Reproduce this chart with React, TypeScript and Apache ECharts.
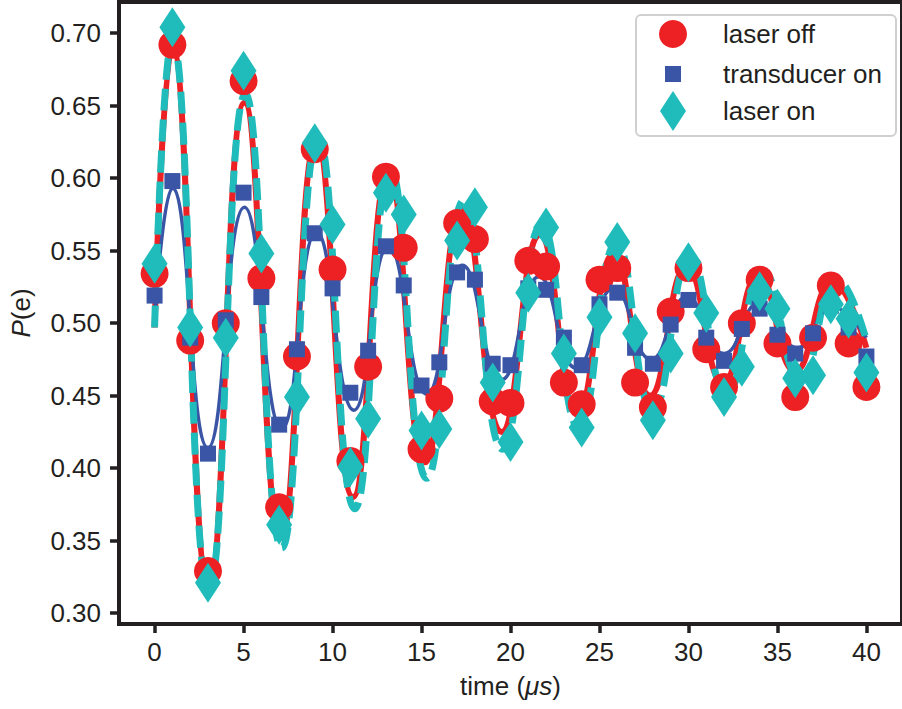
import React, { useEffect, useRef } from "react";
import * as echarts from "echarts";

// measurement times (μs)
const times = [0, 1, 2, 3, 4, 5, 6, 7, 8, 9, 10, 11, 12, 13, 14, 15, 16, 17, 18, 19, 20, 21, 22, 23, 24, 25, 26, 27, 28, 29, 30, 31, 32, 33, 34, 35, 36, 37, 38, 39, 40];

// measured P(e)
const laserOff = [0.534, 0.692, 0.488, 0.329, 0.500, 0.667, 0.531, 0.373, 0.477, 0.620, 0.537, 0.405, 0.470, 0.601, 0.552, 0.413, 0.448, 0.569, 0.558, 0.446, 0.445, 0.543, 0.539, 0.459, 0.444, 0.530, 0.538, 0.459, 0.442, 0.508, 0.538, 0.482, 0.456, 0.500, 0.530, 0.486, 0.449, 0.490, 0.526, 0.486, 0.456];
const transducerOn = [0.519, 0.598, 0.490, 0.410, 0.502, 0.590, 0.518, 0.430, 0.482, 0.562, 0.524, 0.452, 0.481, 0.553, 0.526, 0.457, 0.473, 0.535, 0.530, 0.472, 0.471, 0.524, 0.523, 0.490, 0.471, 0.513, 0.521, 0.483, 0.472, 0.499, 0.516, 0.490, 0.474, 0.496, 0.510, 0.492, 0.479, 0.493, 0.512, 0.497, 0.477];
const laserOn = [0.541, 0.704, 0.497, 0.321, 0.490, 0.674, 0.548, 0.361, 0.449, 0.624, 0.568, 0.401, 0.434, 0.590, 0.575, 0.426, 0.427, 0.557, 0.580, 0.459, 0.418, 0.521, 0.566, 0.479, 0.428, 0.504, 0.556, 0.493, 0.433, 0.479, 0.542, 0.507, 0.449, 0.470, 0.522, 0.510, 0.462, 0.464, 0.513, 0.503, 0.466];

// fitted curves: turning points
const fitOffT = [0, 1.0, 3.05, 5.05, 7.1, 9.1, 11.15, 13.15, 15.2, 17.3, 19.5, 21.65, 23.75, 25.8, 27.85, 29.9, 31.95, 33.95, 36.0, 38.1, 40];
const fitOffV = [0.497, 0.690, 0.318, 0.652, 0.352, 0.626, 0.380, 0.605, 0.404, 0.579, 0.425, 0.561, 0.437, 0.548, 0.450, 0.539, 0.459, 0.533, 0.467, 0.528, 0.483];
const fitTransT = [0, 1.0, 3.0, 5.05, 7.15, 9.1, 11.2, 13.15, 15.3, 17.3, 19.5, 21.6, 23.7, 25.8, 27.9, 29.9, 32.0, 34.0, 36.1, 38.1, 40];
const fitTransV = [0.503, 0.593, 0.414, 0.580, 0.427, 0.563, 0.440, 0.553, 0.451, 0.540, 0.461, 0.532, 0.469, 0.524, 0.475, 0.518, 0.479, 0.514, 0.483, 0.511, 0.490];
const fitOnT = [0, 1.0, 3.05, 5.1, 7.15, 9.2, 11.25, 13.25, 15.3, 17.4, 19.55, 21.75, 23.85, 25.95, 28.0, 30.1, 32.15, 34.2, 36.3, 38.35, 40];
const fitOnV = [0.497, 0.695, 0.316, 0.658, 0.345, 0.628, 0.372, 0.606, 0.393, 0.585, 0.413, 0.568, 0.428, 0.555, 0.440, 0.545, 0.451, 0.536, 0.461, 0.530, 0.488];

const xTicks = [0, 5, 10, 15, 20, 25, 30, 35, 40];
const yTicks = [0.30, 0.35, 0.40, 0.45, 0.50, 0.55, 0.60, 0.65, 0.70];

const RED = "#ed2024";
const BLUE = "#3a55a5";
const CYAN = "#1fbcbb";
const INK = "#231f20";
const FONT = "'Liberation Sans', Arial, Helvetica, sans-serif";
const FS = 26;

function pairs(xs: number[], ys: number[]) {
  return xs.map((x, i) => [x, ys[i]]);
}

export default function App() {
  const ref = useRef<HTMLDivElement>(null);
  useEffect(() => {
    document.body.style.margin = "0";
    const chart = echarts.init(ref.current!, null, { renderer: "svg", width: 902, height: 709 });
    const legendText = (pad: number) => ({ fontSize: FS, color: INK, fontFamily: FONT, padding: [0, 0, 0, pad] });
    const nameStyle = {
      fontSize: FS,
      color: INK,
      fontFamily: FONT,
      rich: { i: { fontSize: FS, color: INK, fontFamily: FONT, fontStyle: "italic" } },
    };
    const option: any = {
      animation: false,
      grid: {
        left: 118,
        top: 2,
        width: 790,
        height: 622,
        show: true,
        borderColor: INK,
        borderWidth: 4,
        backgroundColor: "#ffffff",
      },
      xAxis: {
        type: "value",
        min: -2,
        max: 42,
        name: "time ({i|μs})",
        nameLocation: "middle",
        nameGap: 49,
        nameTextStyle: nameStyle,
        axisLine: { show: false, onZero: false },
        splitLine: { show: false },
        axisTick: { show: true, customValues: xTicks, length: 9, lineStyle: { color: INK, width: 3.5 } },
        axisLabel: { customValues: xTicks, fontSize: FS, color: INK, fontFamily: FONT, margin: 15 },
      },
      yAxis: {
        type: "value",
        min: 0.2925,
        max: 0.7215,
        name: "{i|P}(e)",
        nameLocation: "middle",
        nameGap: 85,
        nameTextStyle: nameStyle,
        axisLine: { show: false, onZero: false },
        splitLine: { show: false },
        axisTick: { show: true, customValues: yTicks, length: 9, lineStyle: { color: INK, width: 3.5 } },
        axisLabel: {
          customValues: yTicks,
          fontSize: FS,
          color: INK,
          fontFamily: FONT,
          margin: 18,
          formatter: (v: number) => v.toFixed(2),
        },
      },
      legend: [
        { data: ["laser off"], left: 659, top: 20, orient: "vertical", padding: 0, itemWidth: 28, itemHeight: 28, selectedMode: false, textStyle: legendText(31) },
        { data: ["transducer on"], left: 665, top: 61, orient: "vertical", padding: 0, itemWidth: 16, itemHeight: 16, selectedMode: false, textStyle: legendText(37) },
        { data: ["laser on"], left: 660, top: 91, orient: "vertical", padding: 0, itemWidth: 26, itemHeight: 40, selectedMode: false, textStyle: legendText(32) },
      ],
      graphic: [
        {
          type: "rect",
          z: 3,
          shape: { x: 636, y: 15, width: 260, height: 121, r: 5 },
          style: { fill: "rgba(255,255,255,0.85)", stroke: "#d0d0d0", lineWidth: 2 },
        },
      ],
      series: [
        {
          name: "laser off",
          type: "scatter",
          symbol: "circle",
          symbolSize: 28,
          itemStyle: { color: RED, opacity: 1 },
          data: pairs(times, laserOff),
          silent: true,
          z: 2,
        },
        {
          name: "laser off fit",
          type: "line",
          smooth: 0.5,
          showSymbol: false,
          symbol: "none",
          lineStyle: { color: RED, width: 6 },
          data: pairs(fitOffT, fitOffV),
          silent: true,
          z: 2,
        },
        {
          name: "transducer on",
          type: "scatter",
          symbol: "rect",
          symbolSize: 16,
          itemStyle: { color: BLUE, opacity: 1 },
          data: pairs(times, transducerOn),
          silent: true,
          z: 2,
        },
        {
          name: "transducer on fit",
          type: "line",
          smooth: 0.5,
          showSymbol: false,
          symbol: "none",
          lineStyle: { color: BLUE, width: 3.5 },
          data: pairs(fitTransT, fitTransV),
          silent: true,
          z: 2,
        },
        {
          name: "laser on",
          type: "scatter",
          symbol: "diamond",
          symbolSize: [26, 40],
          itemStyle: { color: CYAN, opacity: 1 },
          data: pairs(times, laserOn),
          silent: true,
          z: 2,
        },
        {
          name: "laser on fit",
          type: "line",
          smooth: 0.5,
          showSymbol: false,
          symbol: "none",
          lineStyle: { color: CYAN, width: 7, type: [22, 9] },
          data: pairs(fitOnT, fitOnV),
          silent: true,
          z: 2,
        },
      ],
    };
    chart.setOption(option);
    return () => chart.dispose();
  }, []);
  return <div ref={ref} style={{ width: 902, height: 709 }} />;
}
